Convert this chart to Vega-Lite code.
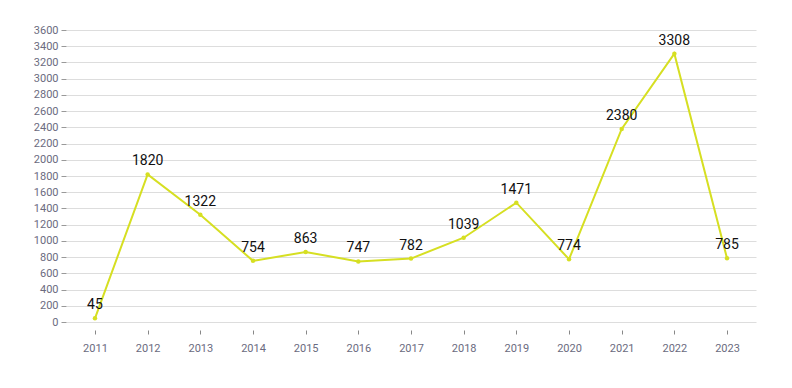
{
  "$schema": "https://vega.github.io/schema/vega-lite/v6.json",
  "autosize": {"type": "none"},
  "padding": {"left": 66, "top": 30, "right": 36, "bottom": 66},
  "width": 690,
  "height": 292,
  "background": "white",
  "config": {"view": {"stroke": null}, "font": "Roboto"},
  "data": {"values": [
    {"year": "2011", "value": 45},
    {"year": "2012", "value": 1820},
    {"year": "2013", "value": 1322},
    {"year": "2014", "value": 754},
    {"year": "2015", "value": 863},
    {"year": "2016", "value": 747},
    {"year": "2017", "value": 782},
    {"year": "2018", "value": 1039},
    {"year": "2019", "value": 1471},
    {"year": "2020", "value": 774},
    {"year": "2021", "value": 2380},
    {"year": "2022", "value": 3308},
    {"year": "2023", "value": 785}
  ]},
  "encoding": {
    "x": {"field": "year", "type": "ordinal", "scale": {"type": "point", "padding": 0.55},
      "axis": {"title": null, "labelAngle": 0, "domain": false, "grid": false, "ticks": true, "tickSize": 4, "tickColor": "#888", "offset": 8, "labelPadding": 8, "labelColor": "#6b6b80", "labelFontSize": 11, "labelFont": "Roboto"}},
    "y": {"field": "value", "type": "quantitative", "scale": {"domain": [0, 3600], "nice": false},
      "axis": {"title": null, "format": "d", "values": [0,200,400,600,800,1000,1200,1400,1600,1800,2000,2200,2400,2600,2800,3000,3200,3400,3600], "domain": false, "tickSize": 5, "tickColor": "#999", "labelPadding": 3, "labelColor": "#6b6b80", "labelFontSize": 11, "labelFont": "Roboto", "gridColor": "#dddddd", "gridWidth": 1}}
  },
  "layer": [
    {"mark": {"type": "line", "color": "#d6df22", "strokeWidth": 2}},
    {"mark": {"type": "point", "filled": true, "color": "#d6df22", "size": 20, "opacity": 1}},
    {"mark": {"type": "text", "dy": -13, "fontSize": 14, "fontWeight": "normal", "color": "#111", "font": "Roboto"},
      "encoding": {"text": {"field": "value", "type": "quantitative", "format": "d"}}}
  ]
}
